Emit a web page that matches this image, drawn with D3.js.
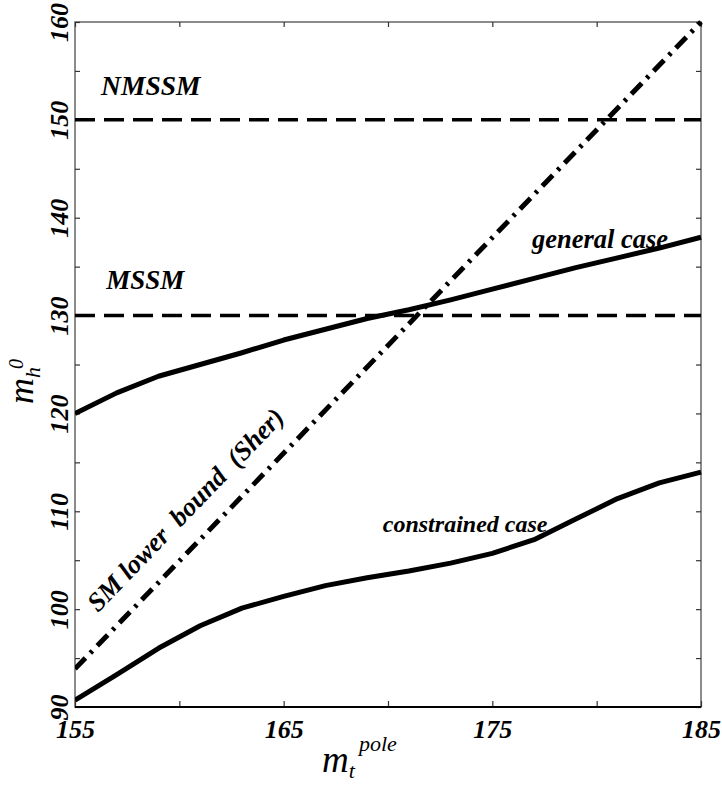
<!DOCTYPE html>
<html>
<head>
<meta charset="utf-8">
<script src="https://cdn.jsdelivr.net/npm/d3@7"></script>
<style>
  body { margin: 0; background: #fff; }
</style>
</head>
<body>
<svg id="svg" width="722" height="785"></svg>
<script>
// data
const mTop = [155, 157, 159, 161, 163, 165, 167, 169, 171, 173, 175, 177, 179, 181, 183, 185];
const generalCase = [120.0, 122.1, 123.8, 125.0, 126.2, 127.5, 128.6, 129.7, 130.6, 131.6, 132.7, 133.8, 134.9, 135.9, 136.9, 138.0];
const constrainedCase = [90.7, 93.3, 96.0, 98.3, 100.1, 101.3, 102.4, 103.2, 103.9, 104.7, 105.7, 107.1, 109.2, 111.3, 112.9, 114.0];
const smX = [155, 185];
const smBound = [93.9, 160];
const mssmLimit = 130;
const nmssmLimit = 150;
const xTicks = [155, 160, 165, 170, 175, 180, 185];
const xLabels = [155, 165, 175, 185];
const yTicks = [90, 95, 100, 105, 110, 115, 120, 125, 130, 135, 140, 145, 150, 155, 160];
const yLabels = [90, 100, 110, 120, 130, 140, 150, 160];

const SERIF = '"Liberation Serif", "DejaVu Serif", "Noto Serif", "Times New Roman", serif';

const svg = d3.select('#svg');
const pLeft = 75, pRight = 701, pTop = 22, pBottom = 707;

const x = d3.scaleLinear().domain([155, 185]).range([pLeft, pRight]);
const y = d3.scaleLinear().domain([90, 160]).range([pBottom, pTop]);

const fmtX = d => xLabels.includes(d) ? d : '';
const fmtY = d => yLabels.includes(d) ? d : '';

// frame
svg.append('rect')
  .attr('x', pLeft).attr('y', pTop)
  .attr('width', pRight - pLeft).attr('height', pBottom - pTop)
  .attr('fill', 'none').attr('stroke', '#666').attr('stroke-width', 1.5);

const styleAxis = g => {
  g.attr('font-family', null);
  g.select('.domain').remove();
  g.selectAll('.tick line').attr('stroke', '#333').attr('stroke-width', 1.2);
};

svg.append('g').attr('transform', `translate(0,${pTop})`)
  .call(d3.axisTop(x).tickValues(xTicks).tickSize(-5).tickFormat(''))
  .call(styleAxis);
svg.append('g').attr('transform', `translate(${pRight},0)`)
  .call(d3.axisRight(y).tickValues(yTicks).tickSize(-5).tickFormat(''))
  .call(styleAxis);

const labelStyle = s => s
  .attr('fill', '#000')
  .style('font-family', SERIF)
  .style('font-size', '26px').style('font-weight', 'bold').style('font-style', 'italic');

const xAxis = svg.append('g').attr('transform', `translate(0,${pBottom})`)
  .call(d3.axisBottom(x).tickValues(xTicks).tickSize(-6).tickFormat(fmtX))
  .call(styleAxis);
xAxis.selectAll('text')
  .attr('y', 31).attr('dy', 0)
  .call(labelStyle);

const yAxis = svg.append('g').attr('transform', `translate(${pLeft},0)`)
  .call(d3.axisLeft(y).tickValues(yTicks).tickSize(-5).tickFormat(fmtY))
  .call(styleAxis);
yAxis.selectAll('text')
  .attr('x', 0).attr('y', 0).attr('dy', 0)
  .attr('text-anchor', 'middle')
  .attr('transform', 'translate(-7,0) rotate(-90)')
  .call(labelStyle);

// bottom axis line is darker
svg.append('line')
  .attr('x1', pLeft).attr('x2', pRight).attr('y1', pBottom).attr('y2', pBottom)
  .attr('stroke', '#000').attr('stroke-width', 2);

// curves
svg.append('clipPath').attr('id', 'clip')
  .append('rect').attr('x', pLeft).attr('y', pTop - 3)
  .attr('width', pRight - pLeft + 3).attr('height', pBottom - pTop + 3);

const plot = svg.append('g').attr('clip-path', 'url(#clip)');
const line = d3.line().x(d => x(d[0])).y(d => y(d[1]));

[nmssmLimit, mssmLimit].forEach(v => {
  plot.append('path')
    .attr('d', line([[155, v], [185, v]]))
    .attr('fill', 'none').attr('stroke', '#000')
    .attr('stroke-width', 3.5).attr('stroke-dasharray', '20,9');
});

plot.append('path')
  .attr('d', line(smX.map((v, i) => [v, smBound[i]])))
  .attr('fill', 'none').attr('stroke', '#000')
  .attr('stroke-width', 5).attr('stroke-dasharray', '15,7,3,7');

[generalCase, constrainedCase].forEach(series => {
  plot.append('path')
    .attr('d', line(mTop.map((v, i) => [v, series[i]])))
    .attr('fill', 'none').attr('stroke', '#000')
    .attr('stroke-width', 5).attr('stroke-linejoin', 'round');
});

// annotations
const note = (txt, xv, yv, size, rot) => {
  return svg.append('text')
    .attr('x', 0).attr('y', 0)
    .attr('transform', `translate(${x(xv)},${y(yv)})` + (rot ? ` rotate(${rot})` : ''))
    .style('font-family', SERIF)
    .style('font-size', size + 'px').style('font-weight', 'bold').style('font-style', 'italic')
    .style('white-space', 'pre')
    .text(txt);
};
note('NMSSM', 156.25, 152.5, 27.5);
note('MSSM', 156.5, 132.7, 27);
note('general case', 176.9, 136.9, 26.5);
note('constrained case', 169.75, 107.9, 24);
note('SM lower  bound  (Sher)', 156.1, 99.6, 26.5, -46);

// axis titles
const xt = svg.append('text').attr('x', 322).attr('y', 772)
  .style('font-family', SERIF).style('font-style', 'italic');
xt.append('tspan').style('font-size', '37px').text('m');
xt.append('tspan').attr('dy', 6).style('font-size', '22px').text('t');
xt.append('tspan').attr('x', 359).attr('y', 751).style('font-size', '22px').text('pole');

const yt = svg.append('text')
  .attr('transform', 'translate(33,404) rotate(-90)')
  .style('font-family', SERIF).style('font-style', 'italic');
yt.append('tspan').style('font-size', '36px').text('m');
yt.append('tspan').attr('dy', 7).style('font-size', '22px').text('h');
yt.append('tspan').attr('dy', -17).attr('dx', -2).style('font-size', '20px').text('0');
</script>
</body>
</html>
